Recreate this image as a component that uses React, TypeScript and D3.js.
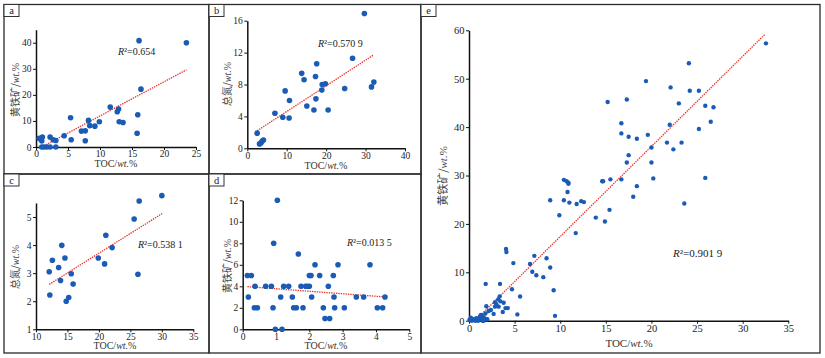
import React, { useEffect, useRef } from 'react';
import * as d3 from 'd3';

// panel a: TOC vs pyrite
const aToc = [23.5, 16.1, 16.4, 11.6, 12.9, 12.7, 15.9, 5.4, 8.2, 9.9, 13.0, 13.6, 8.4, 9.2, 7.1, 7.7, 4.4, 5.5, 7.7, 15.8, 2.2, 1.0, 0.5, 0.9, 2.7, 3.1, 0.9, 1.7, 2.2, 3.1, 1.25];
const aPyrite = [40, 40.8, 22.2, 15.3, 14.6, 13.5, 12.4, 11.2, 10.2, 9.7, 9.7, 9.4, 8.2, 8.0, 6.1, 6.2, 4.3, 2.8, 2.4, 5.3, 3.8, 3.8, 3.3, 2.3, 2.8, 2.5, 0, 0, 0, 0, 0];
const aTrend = [[0.9, 0], [23.5, 29.6]];

// panel b: TOC vs total nitrogen
const bToc = [29.7, 26.7, 17.6, 13.8, 17.3, 14.4, 9.6, 19.0, 19.8, 18.9, 24.7, 31.5, 32.1, 17.4, 10.7, 15.1, 16.9, 20.5, 7.0, 9.0, 10.6, 2.5, 3.1, 3.5, 3.8, 4.1];
const bNitrogen = [16.9, 11.3, 10.6, 9.4, 9.0, 8.6, 7.2, 8.0, 8.1, 7.3, 7.5, 7.7, 8.3, 6.2, 6.0, 5.3, 4.8, 4.8, 4.4, 3.9, 3.8, 1.9, 0.55, 0.7, 0.9, 1.05];
const bTrend = [[2.5, 2.2], [32, 11.7]];

// panel c: TOC vs total nitrogen
const cToc = [30.0, 26.4, 25.6, 21.1, 22.1, 14.1, 12.6, 14.6, 19.9, 20.9, 13.6, 12.1, 15.6, 26.2, 13.9, 15.9, 12.2, 15.2, 14.8];
const cNitrogen = [5.76, 5.57, 4.93, 4.35, 3.91, 3.99, 3.46, 3.54, 3.54, 3.33, 3.2, 3.05, 2.98, 2.96, 2.74, 2.61, 2.22, 2.13, 2.0];
const cTrend = [[12.1, 2.6], [30.1, 5.13]];

// panel d: TOC vs pyrite
const dToc = [1.04, 0.93, 1.67, 0.14, 0.26, 0.17, 0.37, 0.69, 0.86, 1.23, 1.38, 1.75, 1.89, 1.94, 2.0, 2.0, 2.05, 2.17, 2.31, 2.72, 2.57, 2.86, 3.82, 0.35, 0.44, 0.91, 1.14, 1.49, 1.53, 1.61, 1.81, 2.07, 2.42, 2.47, 2.61, 2.74, 2.76, 3.05, 3.41, 3.63, 4.04, 4.2, 4.27, 0.98, 1.18];
const dPyrite = [12, 8, 7, 5, 5, 3, 4, 4, 4, 4, 4, 4, 4, 4, 4, 5, 5, 6, 5, 5, 4, 6, 6, 2, 2, 2, 3, 3, 2, 2, 2, 3, 2, 1, 1, 3, 2, 2, 3, 3, 2, 2, 3, 0, 0];
const dTrend = [[0.14, 3.97], [4.32, 3.0]];

// panel e: TOC vs pyrite, all samples
const eToc = [32.55, 24.1, 19.4, 22.1, 24.2, 25.2, 15.2, 17.3, 23.0, 25.9, 26.8, 16.7, 22.0, 26.5, 25.2, 16.7, 17.5, 18.4, 19.6, 21.7, 23.3, 22.4, 20.0, 17.5, 17.3, 20.0,
  10.4, 10.7, 10.9, 10.9, 14.6, 14.7, 15.5, 16.7, 20.2, 25.9, 18.4, 18.0, 23.6, 10.8, 10.4, 8.9, 11.0, 11.8, 12.3, 12.6, 9.9, 13.9, 15.4, 14.9, 11.7,
  4.06, 4.1, 4.86, 7.16, 6.69, 8.5, 6.94, 7.38, 8.15, 8.9, 9.28, 9.43, 4.71, 5.6, 5.3, 1.83, 3.4, 3.36, 3.8, 3.45, 2.85, 2.85, 2.7, 3.25, 3.7, 4.0, 4.25,
  1.9, 2.15, 1.8, 1.3, 1.4, 1.7, 1.9, 2.0, 1.1, 0.8, 0.5, 0.2, 0.05, 0.3, 0.7, 1.0, 1.5, 1.6, 1.2, 2.4, 3.0, 3.2, 1.5];
const ePyrite = [57.3, 53.2, 49.5, 48.2, 47.5, 47.5, 45.2, 45.7, 44.9, 44.4, 44.1, 40.8, 40.5, 41.1, 39.6, 38.7, 38.0, 37.6, 38.4, 36.8, 36.8, 35.4, 35.8, 34.2, 32.7, 32.7,
  29.1, 28.8, 28.5, 28.3, 28.8, 28.8, 29.2, 29.2, 29.4, 29.5, 27.8, 25.6, 24.2, 26.6, 24.9, 24.9, 24.4, 24.1, 24.7, 24.5, 21.8, 21.3, 22.9, 20.5, 18.1,
  14.8, 14.2, 11.9, 13.4, 11.7, 12.9, 10.1, 9.4, 9.0, 11.0, 6.3, 1.0, 6.5, 5.0, 1.3, 7.6, 7.6, 5.0, 3.7, 4.0, 3.8, 2.9, 1.4, 2.9, 1.8, 2.6, 2.6,
  3.0, 2.0, 1.5, 1.2, 0.5, 0.5, 0.3, 0.3, 0.3, 0.5, 0.3, 0.6, 0.2, 0, 0, 0, 0, 0, 0.9, 2.2, 3.4, 4.4, 1.0];
const eTrend = [[0.66, 0], [32.4, 59.1]];

const xTicksA = [0, 5, 10, 15, 20, 25];
const yTicksA = [0, 10, 20, 30, 40];
const xTicksB = [0, 10, 20, 30, 40];
const yTicksB = [0, 4, 8, 12, 16];
const xTicksC = [10, 15, 20, 25, 30, 35];
const yTicksC = [1, 2, 3, 4, 5];
const xTicksD = [0, 1, 2, 3, 4, 5];
const yTicksD = [0, 2, 4, 6, 8, 10, 12];
const xTicksE = [0, 5, 10, 15, 20, 25, 30, 35];
const yTicksE = [0, 10, 20, 30, 40, 50, 60];

const panels = [
  { id: 'a', frame: [4, 4.5, 209, 174], xr: [36, 196], yr: [147, 29.7], xd: [0, 25], yd: [0, 45], xs: aToc, ys: aPyrite, trend: aTrend, xt: xTicksA, yt: yTicksA, yName: '黄铁矿', r2: '0.654', r2pos: [118, 55], xl: [116, 167], yl: [15, 90], fs: 9.5, r: 2.8 },
  { id: 'b', frame: [209, 4.5, 421, 174], xr: [247.3, 405], yr: [148.3, 20.7], xd: [0, 40], yd: [0, 16], xs: bToc, ys: bNitrogen, trend: bTrend, xt: xTicksB, yt: yTicksB, yName: '总氮', r2: '0.570 9', r2pos: [318, 47], xl: [326, 169], yl: [227, 84], fs: 9.5, r: 2.8 },
  { id: 'c', frame: [4, 174, 209, 353], xr: [36, 193.3], yr: [329.3, 202.96], xd: [10, 35], yd: [1, 5.5], xs: cToc, ys: cNitrogen, trend: cTrend, xt: xTicksC, yt: yTicksC, yName: '总氮', r2: '0.538 1', r2pos: [138, 248], xl: [115, 349], yl: [15, 267], fs: 9.5, r: 2.8 },
  { id: 'd', frame: [209, 174, 421, 353], xr: [242.7, 409.3], yr: [329.3, 200.3], xd: [0, 5], yd: [0, 12], xs: dToc, ys: dPyrite, trend: dTrend, xt: xTicksD, yt: yTicksD, yName: '黄铁矿', r2: '0.013 5', r2pos: [347, 246], xl: [326, 349], yl: [227, 266], fs: 9.5, r: 2.8 },
  { id: 'e', frame: [421, 4.5, 820, 353], xr: [469, 788.3], yr: [320.7, 30.3], xd: [0, 35], yd: [0, 60], xs: eToc, ys: ePyrite, trend: eTrend, xt: xTicksE, yt: yTicksE, yName: '黄铁矿', r2: '0.901 9', r2pos: [673, 257], xl: [629, 347], yl: [443, 176], fs: 10.5, r: 2.2 },
];

const serif = '"Liberation Serif", "DejaVu Serif", serif';
const cjk = '"Noto Sans CJK SC", sans-serif';

export default function App() {
  const ref = useRef<SVGSVGElement>(null);

  useEffect(() => {
    const svg = d3.select(ref.current);
    svg.selectAll('*').remove();
    svg.append('rect').attr('width', 825).attr('height', 358).attr('fill', '#fff');

    panels.forEach((p) => {
      const g = svg.append('g');
      const [x0, y0, x1, y1] = p.frame;

      // panel frame and letter box
      g.append('rect').attr('x', x0).attr('y', y0).attr('width', x1 - x0).attr('height', y1 - y0)
        .attr('fill', 'none').attr('stroke', '#2a2a2a').attr('stroke-width', 1.3);
      g.append('rect').attr('x', x0).attr('y', y0).attr('width', 15).attr('height', 12)
        .attr('fill', '#fff').attr('stroke', '#333').attr('stroke-width', 1);
      g.append('text').attr('x', x0 + 7.5).attr('y', y0 + 9.5).attr('text-anchor', 'middle')
        .attr('font-family', serif).attr('font-size', 10.5).attr('fill', '#222').text(p.id);

      const x = d3.scaleLinear().domain(p.xd).range(p.xr);
      const y = d3.scaleLinear().domain(p.yd).range(p.yr);

      // axes
      const xAxis = g.append('g').attr('transform', `translate(0, ${p.yr[0]})`)
        .call(d3.axisBottom(x).tickValues(p.xt).tickSize(3).tickPadding(0.5).tickSizeOuter(0).tickFormat(d3.format('d')));
      const yAxis = g.append('g').attr('transform', `translate(${p.xr[0]}, 0)`)
        .call(d3.axisLeft(y).tickValues(p.yt).tickSize(3).tickPadding(1.5).tickSizeOuter(0).tickFormat(d3.format('d')));
      [xAxis, yAxis].forEach((ax) => {
        ax.select('.domain').attr('stroke', '#111').attr('stroke-width', 1.5);
        ax.selectAll('.tick line').attr('stroke', '#111').attr('stroke-width', 1);
        ax.selectAll('.tick text').attr('font-family', serif).attr('font-size', p.fs).attr('fill', '#222');
      });

      // trend line
      g.append('path')
        .datum(p.trend)
        .attr('fill', 'none')
        .attr('stroke', '#e8322b')
        .attr('stroke-width', 1.3)
        .attr('stroke-dasharray', '1.4,1')
        .attr('d', d3.line<number[]>().x((d) => x(d[0])).y((d) => y(d[1])));

      // points
      g.append('g').selectAll('circle')
        .data(p.xs.map((v, i) => [v, p.ys[i]]))
        .enter()
        .append('circle')
        .attr('cx', (d) => x(d[0]))
        .attr('cy', (d) => y(d[1]))
        .attr('r', p.r)
        .attr('fill', '#1a5cb5');

      // R² label
      const rt = g.append('text').attr('x', p.r2pos[0]).attr('y', p.r2pos[1])
        .attr('font-family', serif).attr('font-size', p.fs + 0.5).attr('fill', '#222');
      rt.append('tspan').attr('font-style', 'italic').text('R');
      rt.append('tspan').text('²=' + p.r2);

      // x axis title
      const xt = g.append('text').attr('x', p.xl[0]).attr('y', p.xl[1]).attr('text-anchor', 'middle')
        .attr('font-family', serif).attr('font-size', p.fs + 0.5).attr('fill', '#333');
      xt.append('tspan').text('TOC/');
      xt.append('tspan').attr('font-style', 'italic').text('wt.');
      xt.append('tspan').text('%');

      // y axis title
      const yt = g.append('text').attr('transform', `translate(${p.yl[0]}, ${p.yl[1]}) rotate(-90)`)
        .attr('text-anchor', 'middle').attr('dy', '0.35em')
        .attr('font-size', p.fs + 0.5).attr('fill', '#444');
      yt.append('tspan').attr('font-family', cjk).text(p.yName + '/');
      yt.append('tspan').attr('font-family', serif).attr('font-style', 'italic').text('wt.');
      yt.append('tspan').attr('font-family', serif).text('%');
    });
  }, []);

  return (
    <svg ref={ref} width={825} height={358} style={{ position: 'absolute', left: 0, top: 0 }} />
  );
}
